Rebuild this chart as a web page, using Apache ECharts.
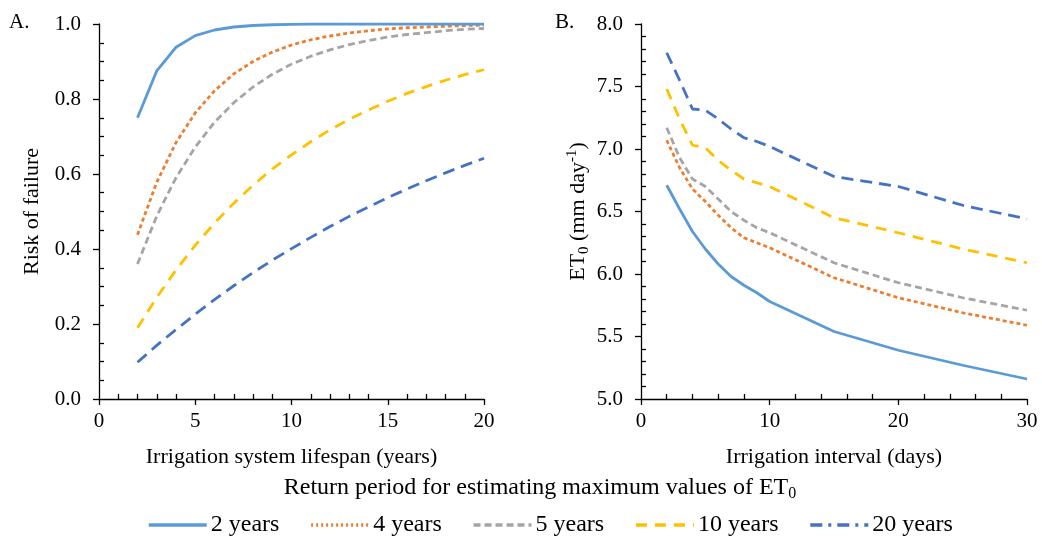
<!DOCTYPE html>
<html><head><meta charset="utf-8">
<script src="https://cdn.jsdelivr.net/npm/echarts@6/dist/echarts.min.js"></script>
<style>html,body{margin:0;padding:0;background:#fff}#c{width:1042px;height:538px}</style>
</head><body><div id="c"></div>
<script>
// ---- Panel A: risk of failure vs irrigation system lifespan ----
const years = [2,3,4,5,6,7,8,9,10,11,12,13,14,15,16,17,18,19,20];
const risk2  = [0.750,0.875,0.938,0.969,0.984,0.992,0.996,0.998,0.999,1.000,1.000,1.000,1.000,1.000,1.000,1.000,1.000,1.000,1.000];
const risk4  = [0.438,0.578,0.684,0.763,0.822,0.867,0.900,0.925,0.944,0.958,0.968,0.976,0.982,0.987,0.990,0.992,0.994,0.996,0.997];
const risk5  = [0.360,0.488,0.590,0.672,0.738,0.790,0.832,0.866,0.893,0.914,0.931,0.945,0.956,0.965,0.972,0.977,0.982,0.986,0.988];
const risk10 = [0.190,0.271,0.344,0.410,0.469,0.522,0.570,0.613,0.651,0.686,0.718,0.746,0.771,0.794,0.815,0.833,0.850,0.865,0.878];
const risk20 = [0.098,0.143,0.185,0.226,0.265,0.302,0.337,0.370,0.401,0.431,0.460,0.487,0.512,0.537,0.560,0.582,0.603,0.623,0.642];

// ---- Panel B: ET0 vs irrigation interval ----
const days = [2,3,4,5,6,7,8,9,10,15,20,25,30];
const et2  = [6.71,6.52,6.34,6.20,6.08,5.98,5.91,5.85,5.78,5.54,5.39,5.27,5.16];
const et4  = [7.07,6.85,6.68,6.58,6.47,6.37,6.29,6.25,6.21,5.97,5.81,5.69,5.59];
const et5  = [7.17,6.93,6.76,6.70,6.60,6.50,6.43,6.37,6.33,6.09,5.93,5.81,5.71];
const et10 = [7.48,7.24,7.03,7.01,6.91,6.83,6.76,6.73,6.70,6.45,6.33,6.20,6.09];
const et20 = [7.77,7.55,7.32,7.31,7.24,7.16,7.09,7.06,7.02,6.78,6.70,6.55,6.44];

const seriesNames = ['2 years','4 years','5 years','10 years','20 years'];

const F = '"Liberation Serif","Times New Roman",serif';
const colors = ['#5B9BD5','#ED7D31','#A5A5A5','#FFC000','#4472C4'];
const dashes = ['solid',[4,3],[7,4],[11,8],[12,7]];
const legendDashes = ['solid',[2,3],[7,4],[11,8],[12,6,3,6]];

const riskSets = [risk2,risk4,risk5,risk10,risk20];
const etSets = [et2,et4,et5,et10,et20];

const chart = echarts.init(document.getElementById('c'));

const axisColor = '#000';
function mainX(grid, min, max, interval, name){
  return {gridIndex:grid, type:'value', min:min, max:max, interval:interval, position:'bottom',
    axisLine:{onZero:false, lineStyle:{color:axisColor,width:1.3}},
    axisTick:{length:6, lineStyle:{color:axisColor,width:1.3}},
    axisLabel:{margin:12, fontSize:21, color:'#000', fontFamily:F},
    splitLine:{show:false},
    name:name, nameLocation:'middle', nameGap:47,
    nameTextStyle:{fontSize:22, color:'#000', fontFamily:F}};
}
function minorX(grid, min, max, interval, split){
  return {gridIndex:grid, type:'value', min:min, max:max, interval:interval, position:'bottom',
    axisLine:{show:false,onZero:false}, axisTick:{show:false, inside:true},
    minorTick:{show:true, splitNumber:split, length:5, lineStyle:{color:axisColor,width:1.3}},
    axisLabel:{show:false}, splitLine:{show:false}, minorSplitLine:{show:false}};
}
function mainY(grid, min, max, interval, name, gap){
  return {gridIndex:grid, type:'value', min:min, max:max, interval:interval, position:'left',
    axisLine:{show:true,onZero:false, lineStyle:{color:axisColor,width:1.3}},
    axisTick:{show:true,length:6, lineStyle:{color:axisColor,width:1.3}},
    axisLabel:{margin:18, fontSize:21, color:'#000', fontFamily:F, formatter:v=>v.toFixed(1)},
    splitLine:{show:false},
    name:name, nameLocation:'middle', nameGap:gap,
    nameTextStyle:{fontSize:22, color:'#000', fontFamily:F,
      rich:{n:{fontSize:22,fontFamily:F,color:'#000',lineHeight:27},
            sub:{fontSize:15,fontFamily:F,color:'#000',verticalAlign:'bottom',lineHeight:27},
            sup:{fontSize:15,fontFamily:F,color:'#000',verticalAlign:'top',lineHeight:27}}}};
}
function minorY(grid, min, max, interval, split){
  return {gridIndex:grid, type:'value', min:min, max:max, interval:interval, position:'left',
    axisLine:{show:false,onZero:false}, axisTick:{show:false, inside:true},
    minorTick:{show:true, splitNumber:split, length:5, lineStyle:{color:axisColor,width:1.3}},
    axisLabel:{show:false}, splitLine:{show:false}, minorSplitLine:{show:false}};
}

const series = [];
seriesNames.forEach((nm,i)=>{
  series.push({name:nm, type:'line', xAxisIndex:0, yAxisIndex:0, symbol:'none', silent:true,
    data: years.map((x,j)=>[x, riskSets[i][j]]),
    lineStyle:{color:colors[i], width:2.8, type:dashes[i]}, itemStyle:{color:colors[i]}, z:10-i});
});
seriesNames.forEach((nm,i)=>{
  series.push({name:nm, type:'line', xAxisIndex:2, yAxisIndex:2, symbol:'none', silent:true,
    data: days.map((x,j)=>[x, etSets[i][j]]),
    lineStyle:{color:colors[i], width:2.8, type:dashes[i]}, itemStyle:{color:colors[i]}, z:10-i});
});

chart.setOption({
  animation:false,
  backgroundColor:'#fff',
  textStyle:{fontFamily:F},
  grid:[
    {left:99, top:24, width:385, height:375},
    {left:641, top:24, width:386, height:375}
  ],
  xAxis:[
    mainX(0,0,20,5,'Irrigation system lifespan (years)'),
    minorX(0,0,20,5,5),
    mainX(1,0,30,10,'Irrigation interval (days)'),
    minorX(1,0,30,10,5)
  ],
  yAxis:[
    mainY(0,0,1,0.2,'Risk of failure',56),
    minorY(0,0,1,0.2,4),
    mainY(1,5,8,0.5,'{n|ET}{sub|0}{n| (mm day}{sup|-1}{n|)}',49),
    minorY(1,5,8,0.5,5)
  ],
  legend:{
    data:seriesNames.map((nm,i)=>({name:nm, lineStyle:{type:legendDashes[i], width:3.5, color:colors[i]}})),
    top:508, left:142,
    itemWidth:58, itemHeight:14, itemGap:30,
    itemStyle:{color:'rgba(0,0,0,0)', borderColor:'rgba(0,0,0,0)', borderWidth:0},
    textStyle:{fontSize:24, color:'#000', fontFamily:F, padding:[0,0,0,-1]}
  },
  graphic:[
    {type:'text', left:9, top:12, style:{text:'A.', fontSize:21, fontFamily:F, fill:'#000'}},
    {type:'text', left:555, top:12, style:{text:'B.', fontSize:21, fontFamily:F, fill:'#000'}},
    {type:'text', x:540, y:488, style:{text:'{a|Return period for estimating maximum values of ET}{s|0}',
      align:'center', verticalAlign:'middle',
      rich:{a:{fontSize:24,fontFamily:F,fill:'#000',lineHeight:28},
            s:{fontSize:16,fontFamily:F,fill:'#000',verticalAlign:'bottom',lineHeight:28}}}}
  ],
  series:series
});
</script></body></html>
